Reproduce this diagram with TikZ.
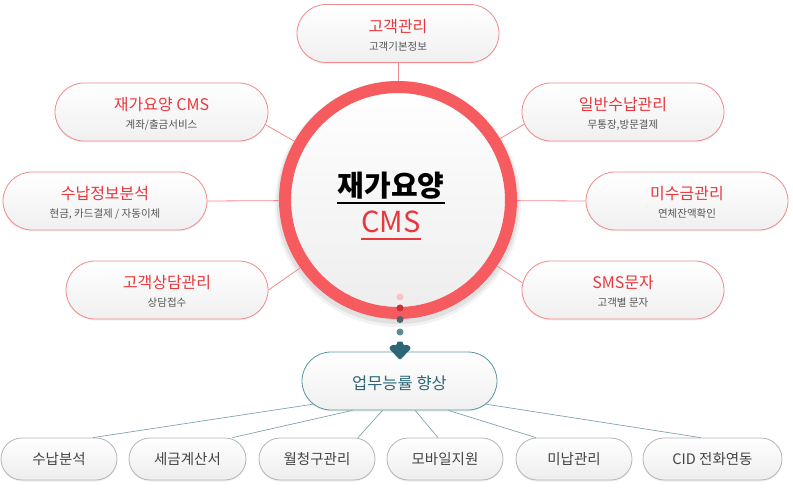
\documentclass[tikz,border=0pt]{standalone}
\usepackage{fontspec}
\setmainfont{Noto Sans CJK KR}
\usetikzlibrary{shapes.misc,shadows,calc}
\definecolor{tred}{HTML}{E8383D}
\definecolor{sgray}{HTML}{555555}
\definecolor{bred}{HTML}{F08A8C}
\definecolor{ringred}{HTML}{F55B5F}
\definecolor{mteal}{HTML}{2D6677}
\definecolor{mtealb}{HTML}{5C95A6}
\definecolor{blin}{HTML}{7FA4AE}
\definecolor{bgray}{HTML}{B5B5B5}
\definecolor{btext}{HTML}{444444}
\definecolor{dotpink}{HTML}{F7C3C6}
\definecolor{dotred}{HTML}{C9323C}
\definecolor{dotdark}{HTML}{4E6470}
\definecolor{dotteal}{HTML}{5B8B98}
\begin{document}
\begin{tikzpicture}[x=1pt,y=-1pt,
  pill/.style={rounded rectangle, draw=bred, line width=0.8pt, top color=white, bottom color=black!6,
    minimum width=202pt, minimum height=58pt, inner sep=0pt,
    drop shadow={opacity=0.12, shadow xshift=0pt, shadow yshift=-1.5pt}},
  mpill/.style={pill, draw=mtealb},
  bpill/.style={rounded rectangle, draw=bgray, line width=0.8pt, top color=white, bottom color=black!7,
    minimum width=116pt, minimum height=42pt, inner sep=0pt, text=btext,
    font=\fontsize{14.5}{15}\selectfont,
    drop shadow={opacity=0.12, shadow xshift=0pt, shadow yshift=-1.5pt}},
  ttl/.style={inner sep=0pt, text=tred, font=\fontsize{16}{16}\selectfont},
  sub/.style={inner sep=0pt, text=sgray, font=\fontsize{10.5}{11}\selectfont},
  pl/.style={draw=bred, line width=0.8pt},
  bl/.style={draw=blin, line width=0.7pt},
  dotc/.style={circle, inner sep=0pt, minimum size=7pt}
]
\useasboundingbox (0,0) rectangle (793,489);

% circle shadow
\fill[black, opacity=0.05] (398,204) circle (123pt);
\fill[black, opacity=0.07] (398,203) circle (121pt);
\node[circle, draw=ringred, line width=12pt, minimum size=226pt, inner sep=0pt,
  top color=white, bottom color=black!7] (c) at (398,200) {};

% outer boxes
\node[pill] (t) at (398,33.5) {};
\node[pill, minimum width=213pt] (l1) at (161.5,112) {};
\node[pill, minimum width=204pt] (l2) at (105,201) {};
\node[pill] (l3) at (167,290) {};
\node[pill] (r1) at (623,112) {};
\node[pill] (r2) at (687,201) {};
\node[pill] (r3) at (623,290) {};

\node[ttl] (ta) at ($(t)+(0,-7)$) {고객관리};
\node[sub] (tb) at ($(t)+(0,13)$) {고객기본정보};
\node[ttl] (l1a) at ($(l1)+(0,-7)$) {재가요양 CMS};
\node[sub] (l1b) at ($(l1)+(0,13)$) {계좌/출금서비스};
\node[ttl] (l2a) at ($(l2)+(0,-7)$) {수납정보분석};
\node[sub] (l2b) at ($(l2)+(0,13)$) {현금, 카드결제 / 자동이체};
\node[ttl] (l3a) at ($(l3)+(0,-7)$) {고객상담관리};
\node[sub] (l3b) at ($(l3)+(0,13)$) {상담접수};
\node[ttl] (r1a) at ($(r1)+(0,-7)$) {일반수납관리};
\node[sub] (r1b) at ($(r1)+(0,13)$) {무통장,방문결제};
\node[ttl] (r2a) at ($(r2)+(0,-7)$) {미수금관리};
\node[sub] (r2b) at ($(r2)+(0,13)$) {연체잔액확인};
\node[ttl] (r3a) at ($(r3)+(0,-7)$) {SMS문자};
\node[sub] (r3b) at ($(r3)+(0,13)$) {고객별 문자};

% connectors to circle
\draw[pl] (t.south) -- (c);
\draw[pl] (l1.-7) -- (c);
\draw[pl] (l2.east) -- (c);
\draw[pl] (l3.east) -- (c);
\draw[pl] (r1.187) -- (c);
\draw[pl] (r2.west) -- (c);
\draw[pl] (r3.176) -- (c);

% center text
\node[inner sep=0pt, font=\fontsize{29}{29}\selectfont\bfseries, text=black] (ct1) at (391,186) {재가요양};
\node[inner sep=0pt, font=\fontsize{29}{29}\selectfont, text=tred] (ct2) at (391,221.5) {CMS};
\coordinate (u1) at (0,203);
\coordinate (u2) at (0,239);
\draw[black, line width=2pt] (ct1.west |- u1) -- (ct1.east |- u1);
\draw[tred, line width=2pt] (ct2.west |- u2) -- (ct2.east |- u2);

% dots
\node[dotc, fill=dotpink] (d1) at (400,297) {};
\node[dotc, fill=dotred] (d2) at (400,308) {};
\node[dotc, fill=dotdark] (d3) at (400,319.5) {};
\node[dotc, fill=dotteal] (d4) at (400,332) {};

% middle box
\node[mpill, minimum width=195pt] (m) at (399.5,381) {};
\node[inner sep=0pt, text=mteal, font=\fontsize{16.5}{17}\selectfont] (mt) at ($(m)+(0,2)$) {업무능률 향상};

% arrow onto the middle box
\fill[mteal, rounded corners=1.2pt] (397,341.5) -- (403,341.5) -- (403,345) -- (408.5,345) -- (411,348.5)
  -- (400,360) -- (389,348.5) -- (391.5,345) -- (397,345) -- cycle;

% bottom boxes
\node[bpill] (b1) at (59,459) {수납분석};
\node[bpill, minimum width=117pt] (b2) at (187.5,459) {세금계산서};
\node[bpill] (b3) at (317,459) {월청구관리};
\node[bpill] (b4) at (445,459) {모바일지원};
\node[bpill] (b5) at (574,459) {미납관리};
\node[bpill, minimum width=139pt] (b6) at (712.5,459) {CID 전화연동};

\draw[bl] (m.195) -- ($(b1.north)+(34,0)$);
\draw[bl] (m.212) -- ($(b2.north)+(45,0)$);
\draw[bl] (m.240) -- ($(b3.north)+(41,0)$);
\draw[bl] (m.298) -- ($(b4.north)+(-7,0)$);
\draw[bl] (m.329) -- ($(b5.north)+(-38,0)$);
\draw[bl] (m.-15) -- ($(b6.north)+(-12,0)$);
\end{tikzpicture}
\end{document}
